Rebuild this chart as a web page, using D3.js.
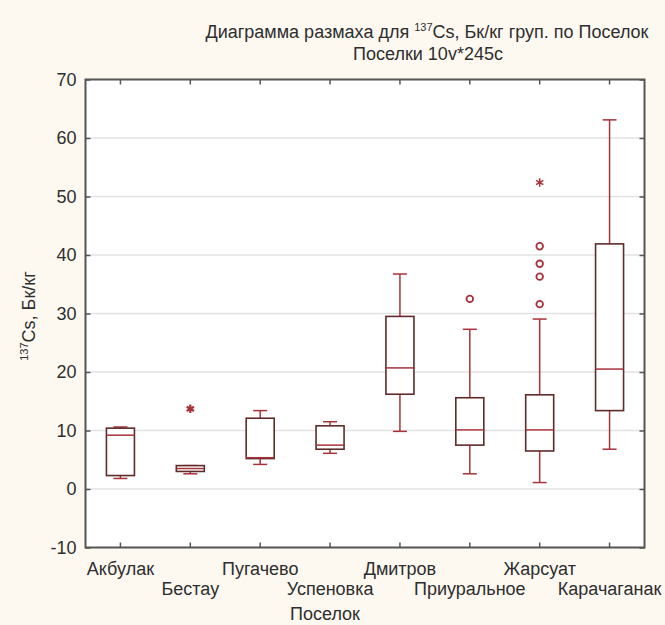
<!DOCTYPE html>
<html><head><meta charset="utf-8">
<script src="https://cdn.jsdelivr.net/npm/d3@7/dist/d3.min.js"></script>
<style>
html,body{margin:0;padding:0;background:#fdf9f1;}
svg{display:block;font-family:"Liberation Sans",Arial,sans-serif;}
</style></head>
<body>
<svg id="chart" width="665" height="625"></svg>
<script>
const categories = ["Акбулак","Бестау","Пугачево","Успеновка","Дмитров","Приуральное","Жарсуат","Карачаганак"];
const whiskerLow  = [1.8, 2.6, 4.2, 6.1, 9.85, 2.6, 1.1, 6.8];
const q1          = [2.3, 3.0, 5.2, 6.8, 16.2, 7.5, 6.5, 13.4];
const median      = [9.2, 3.5, 5.35, 7.5, 20.7, 10.1, 10.1, 20.5];
const q3          = [10.4, 4.0, 12.1, 10.8, 29.5, 15.6, 16.1, 41.9];
const whiskerHigh = [10.6, 4.0, 13.4, 11.5, 36.75, 27.3, 29.05, 63.1];
const outlierCats = ["Приуральное","Жарсуат","Жарсуат","Жарсуат","Жарсуат"];
const outlierVals = [32.5, 41.5, 38.5, 36.3, 31.6];
const extremeCats = ["Бестау","Жарсуат"];
const extremeVals = [13.7, 52.4];
const yTicks = [-10,0,10,20,30,40,50,60,70];

const svg = d3.select("#chart");
const L = 85.5, R = 644.5, T = 79.5, B = 547.5;
const x = d3.scaleBand().domain(categories).range([L, R]).padding(0);
const cx = c => x(c) + x.bandwidth()/2;
const y = d3.scaleLinear().domain([-10, 70]).range([B, T]);

const boxCol = "#5e2b2b", redCol = "#a8323a", gridCol = "#e2e2e2", axisCol = "#555", txtCol = "#2e2e2e";
const FS = 18;

svg.append("rect").attr("x", L).attr("y", T).attr("width", R-L).attr("height", B-T).attr("fill", "#fff");

// grid
svg.append("g").selectAll("line").data(yTicks.filter(d => d > -10 && d < 70)).join("line")
  .attr("x1", L).attr("x2", R).attr("y1", d => y(d)).attr("y2", d => y(d))
  .attr("stroke", gridCol).attr("stroke-width", 1.5);

// axes
const axL = d3.axisLeft(y).tickValues(yTicks).tickSize(-5).tickPadding(9).tickFormat(d => String(d));
const axR = d3.axisRight(y).tickValues(yTicks).tickSize(-5).tickFormat("");
const axB = d3.axisBottom(x).tickSize(-5).tickFormat("");
const axT = d3.axisTop(x).tickSize(-5).tickFormat("");
function style(g){ g.select(".domain").remove(); g.selectAll("line").attr("stroke", axisCol).attr("stroke-width", 1.5); }
const gL = svg.append("g").attr("transform", `translate(${L},0)`).call(axL).call(style);
gL.selectAll("text").attr("font-size", FS).attr("fill", txtCol).attr("font-family", "Liberation Sans, Arial, sans-serif");
svg.append("g").attr("transform", `translate(${R},0)`).call(axR).call(style);
svg.append("g").attr("transform", `translate(0,${B})`).call(axB).call(style);
svg.append("g").attr("transform", `translate(0,${T})`).call(axT).call(style);
svg.append("rect").attr("x", L).attr("y", T).attr("width", R-L).attr("height", B-T)
  .attr("fill", "none").attr("stroke", axisCol).attr("stroke-width", 2);

// category labels (staggered)
svg.append("g").selectAll("text").data(categories).join("text")
  .attr("x", d => cx(d)).attr("y", (d,i) => i % 2 === 0 ? 574.5 : 595)
  .attr("text-anchor", "middle").attr("font-size", FS).attr("fill", txtCol).text(d => d);

// boxes
const bw = 28, cap = 14;
const g = svg.append("g");
categories.forEach((c, i) => {
  const xc = cx(c);
  g.append("line").attr("x1", xc).attr("x2", xc).attr("y1", y(q3[i])).attr("y2", y(whiskerHigh[i])).attr("stroke", redCol).attr("stroke-width", 1.5);
  g.append("line").attr("x1", xc).attr("x2", xc).attr("y1", y(q1[i])).attr("y2", y(whiskerLow[i])).attr("stroke", redCol).attr("stroke-width", 1.5);
  g.append("line").attr("x1", xc-cap/2).attr("x2", xc+cap/2).attr("y1", y(whiskerHigh[i])).attr("y2", y(whiskerHigh[i])).attr("stroke", redCol).attr("stroke-width", 1.5);
  g.append("line").attr("x1", xc-cap/2).attr("x2", xc+cap/2).attr("y1", y(whiskerLow[i])).attr("y2", y(whiskerLow[i])).attr("stroke", redCol).attr("stroke-width", 1.5);
  g.append("rect").attr("x", xc-bw/2).attr("y", y(q3[i])).attr("width", bw).attr("height", y(q1[i]) - y(q3[i]))
    .attr("fill", "#fff").attr("stroke", boxCol).attr("stroke-width", 1.6);
  g.append("line").attr("x1", xc-bw/2).attr("x2", xc+bw/2).attr("y1", y(median[i])).attr("y2", y(median[i])).attr("stroke", redCol).attr("stroke-width", 1.5);
});

// outliers
svg.append("g").selectAll("circle").data(outlierVals).join("circle")
  .attr("cx", (d,i) => cx(outlierCats[i])).attr("cy", d => y(d)).attr("r", 3.3)
  .attr("fill", "none").attr("stroke", redCol).attr("stroke-width", 1.8);
const star = d3.symbol().type(d3.symbolAsterisk).size(50);
svg.append("g").selectAll("path").data(extremeVals).join("path")
  .attr("transform", (d,i) => `translate(${cx(extremeCats[i])},${y(d)})`)
  .attr("d", star).attr("fill", "none").attr("stroke", redCol).attr("stroke-width", (d,i) => i === 0 ? 2.2 : 1.5);

// titles
const t1 = svg.append("text").attr("x", 427).attr("y", 37.5).attr("text-anchor", "middle").attr("font-size", FS).attr("fill", txtCol);
t1.append("tspan").text("Диаграмма размаха для ");
t1.append("tspan").attr("font-size", 11).attr("dy", -7).text("137");
t1.append("tspan").attr("dy", 7).text("Cs, Бк/кг груп. по Поселок");
svg.append("text").attr("x", 428).attr("y", 60).attr("text-anchor", "middle").attr("font-size", FS).attr("fill", txtCol).text("Поселки 10v*245c");

// axis titles
svg.append("text").attr("x", 325).attr("y", 620).attr("text-anchor", "middle").attr("font-size", FS).attr("fill", txtCol).text("Поселок");
const yl = svg.append("text").attr("transform", "translate(35,316) rotate(-90)").attr("text-anchor", "middle").attr("font-size", FS).attr("fill", txtCol);
yl.append("tspan").attr("font-size", 11).attr("dy", -7).text("137");
yl.append("tspan").attr("dy", 7).text("Cs, Бк/кг");
</script>
</body></html>
